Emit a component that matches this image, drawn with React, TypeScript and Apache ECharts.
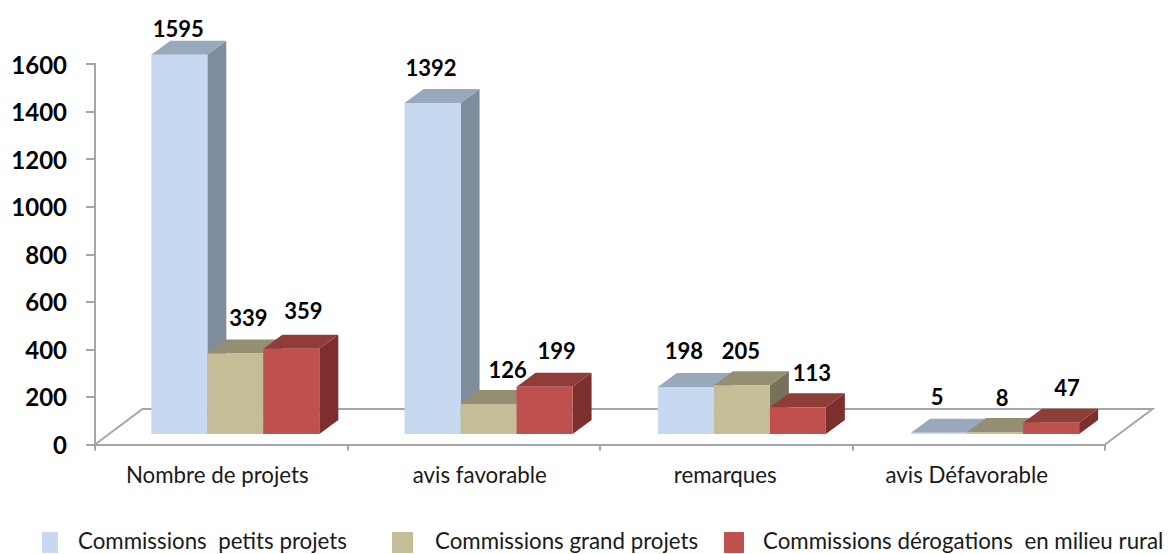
import React, { useEffect, useRef } from "react";
import * as echarts from "echarts";

const categories = ["Nombre de projets", "avis favorable", "remarques", "avis Défavorable"];
const petits = [1595, 1392, 198, 5];
const grands = [339, 126, 205, 8];
const derogations = [359, 199, 113, 47];
const yTicks = { min: 0, max: 1600, interval: 200 };

const seriesNames = ["Commissions  petits projets", "Commissions grand projets", "Commissions dérogations  en milieu rural"];
const palette = [
  { front: "#C6D9F1", top: "#98A8BD", side: "#7F8C9B" },
  { front: "#C4BD97", top: "#948F72", side: "#76725A" },
  { front: "#C0504D", top: "#903C39", side: "#7C2F2D" },
];
// Hand placement of the value labels, relative to the bar's top back edge
const labelShift = [
  [[-1, -12], [-1.5, -21], [-2, -22], [-2, -22]],
  [[13, -21.5], [19, -21], [-1, -21], [7, -21]],
  [[12, -24], [12, -22], [14, -21], [16, -21]],
];
const catLabelPad = [8, -12, 2, 24];
const legendLeft = [42, 392, 724];
const legendIconWidth = [16, 21, 20];
const legendTextGap = [15, 17, 14];

const FONT = "Lato, Carlito, sans-serif";
const DEPTH_X = 19;
const DEPTH_Y = 14;
const FLOOR_X = 47.5;
const FLOOR_Y = 35.5;
const BAR_DX = 13.7;
const BAR_DY = 10.5;
const FRONT_SCALE = 1.003;
const BAR_BAND = 0.2218;

function barRender(si: number) {
  const c = palette[si];
  return (params: any, api: any) => {
    const i = api.value(0);
    const v = api.value(1);
    const band = api.size([1, 0])[0];
    const p0 = api.coord([i, 0]);
    const pv = api.coord([i, v]);
    const originX = p0[0] - (i + 0.5) * band;
    const w = band * BAR_BAND;
    const cx = originX + (p0[0] - originX) * FRONT_SCALE + BAR_DX + (si - 1) * w;
    const x0 = cx - w / 2;
    const x1 = cx + w / 2;
    const yb = p0[1] - BAR_DY;
    const yt = pv[1] - BAR_DY;
    const poly = (pts: number[][], fill: string) => ({ type: "polygon", shape: { points: pts }, style: { fill } });
    const [sx, sy] = labelShift[si][i];
    return {
      type: "group",
      children: [
        poly([[x1, yb], [x1 + DEPTH_X, yb - DEPTH_Y], [x1 + DEPTH_X, yt - DEPTH_Y], [x1, yt]], c.side),
        poly([[x0, yt], [x0 + DEPTH_X, yt - DEPTH_Y], [x1 + DEPTH_X, yt - DEPTH_Y], [x1, yt]], c.top),
        poly([[x0, yb], [x1, yb], [x1, yt], [x0, yt]], c.front),
        {
          type: "text",
          style: {
            text: String(v),
            x: cx + sx,
            y: yt - DEPTH_Y + sy,
            align: "center",
            verticalAlign: "middle",
            fill: "#000",
            font: `bold 22px ${FONT}`,
          },
        },
      ],
    };
  };
}

function floorRender(params: any, api: any) {
  const a = api.coord([0, 0]);
  const b = api.coord([categories.length - 1, 0]);
  const band = api.size([1, 0])[0];
  const l = a[0] - band / 2;
  const r = b[0] + band / 2;
  const y = a[1];
  return {
    type: "polyline",
    shape: { points: [[l, y], [l + FLOOR_X, y - FLOOR_Y], [r + FLOOR_X, y - FLOOR_Y], [r, y]] },
    style: { stroke: "#A6A6A6", lineWidth: 2, fill: "none" },
  };
}

const rows = [petits, grands, derogations];

export default function App() {
  const ref = useRef<HTMLDivElement>(null);
  useEffect(() => {
    const chart = echarts.init(ref.current!, undefined, { renderer: "svg" });
    chart.setOption({
      animation: false,
      backgroundColor: "#fff",
      grid: { left: 95, right: 63, top: 64, bottom: 109.5, containLabel: false },
      legend: seriesNames.map((name, i) => ({
        show: true,
        data: [name],
        left: legendLeft[i],
        top: 529.5,
        padding: 0,
        itemWidth: legendIconWidth[i],
        itemHeight: 21,
        itemGap: 0,
        icon: "rect",
        formatter: (n: string) => `{t|${n}}`,
        textStyle: {
          rich: {
            t: {
              fontFamily: FONT,
              fontSize: 22.3,
              color: "#1a1a1a",
              padding: [0, 0, 4, legendTextGap[i]],
            },
          },
        },
      })),
      xAxis: {
        type: "category",
        data: categories,
        boundaryGap: true,
        axisLine: { lineStyle: { color: "#A6A6A6", width: 2 } },
        axisTick: { show: true, length: 6, lineStyle: { color: "#A6A6A6", width: 2 } },
        axisLabel: {
          margin: 19,
          formatter: (v: string) => `{c${categories.indexOf(v)}|${v}}`,
          rich: Object.fromEntries(
            catLabelPad.map((p, i) => [
              `c${i}`,
              {
                fontFamily: FONT,
                fontSize: 22.3,
                color: "#1a1a1a",
                padding: p >= 0 ? [0, p, 0, 0] : [0, 0, 0, -p],
              },
            ])
          ),
        },
      },
      yAxis: {
        type: "value",
        min: yTicks.min,
        max: yTicks.max,
        interval: yTicks.interval,
        splitLine: { show: false },
        axisLine: { show: true, lineStyle: { color: "#A6A6A6", width: 2 } },
        axisTick: { show: true, length: 9, lineStyle: { color: "#A6A6A6", width: 2 } },
        axisLabel: { margin: 28, fontFamily: FONT, fontSize: 24, fontWeight: "bold", color: "#000", formatter: (v: number) => String(v) },
      },
      series: [
        { type: "custom", silent: true, z: 1, data: [[0, 0]], encode: { x: 0, y: 1 }, renderItem: floorRender },
        ...rows.map((row, si) => ({
          type: "custom",
          name: seriesNames[si],
          z: 2 + si,
          itemStyle: { color: palette[si].front },
          encode: { x: 0, y: 1 },
          data: row.map((v, i) => [i, v]),
          renderItem: barRender(si),
        })),
      ],
    });
    return () => chart.dispose();
  }, []);
  return <div ref={ref} style={{ position: "fixed", left: 0, top: 0, width: 1168, height: 554 }} />;
}
